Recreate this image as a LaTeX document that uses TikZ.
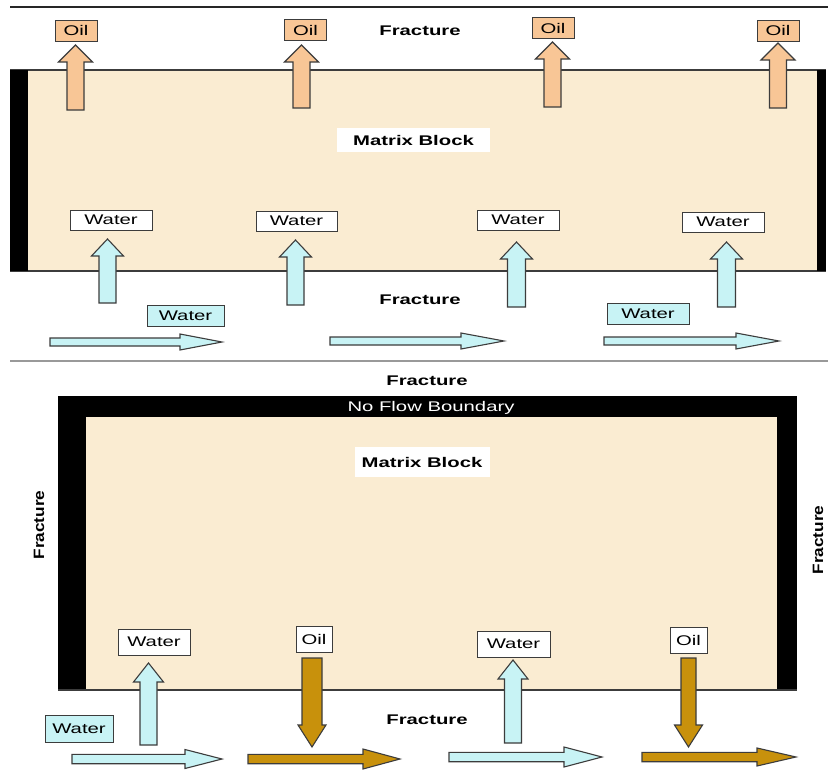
\documentclass[tikz,border=0pt]{standalone}
\usepackage{fontspec}
\setmainfont{Liberation Sans}[FakeStretch=1.45]
\newfontfamily\rotfont{Liberation Sans}[FakeStretch=1.15]
\definecolor{matrixc}{RGB}{250,236,210}
\definecolor{oilc}{RGB}{248,198,150}
\definecolor{waterc}{RGB}{200,243,245}
\definecolor{goldc}{RGB}{200,145,12}
\definecolor{edgec}{RGB}{60,60,60}
\tikzset{
  arrowline/.style={draw=edgec, line width=1.1pt, line join=miter},
  lbl/.style={inner sep=0pt, font=\fontsize{14}{16}\selectfont},
  blbl/.style={inner sep=0pt, font=\fontsize{14}{16}\selectfont\bfseries},
  rotlbl/.style={inner sep=0pt, rotate=90, font=\fontsize{15}{17}\selectfont\rotfont\bfseries},
  oilbox/.style={lbl, draw=edgec, line width=1pt, fill=oilc, minimum width=42pt, minimum height=21pt},
  whitebox/.style={lbl, draw=edgec, line width=1pt, fill=white},
  cyanbox/.style={lbl, draw=edgec, line width=1pt, fill=waterc},
  titlebox/.style={blbl, fill=white}
}
\newcommand{\vblockarrow}[7]{% fill, cx, start y, head base y, tip y, shaft half, head half
  \filldraw[arrowline, fill=#1] ({#2-#6},#3) -- ({#2-#6},#4) -- ({#2-#7},#4) -- (#2,#5) -- ({#2+#7},#4) -- ({#2+#6},#4) -- ({#2+#6},#3) -- cycle;}
\newcommand{\hblockarrow}[7]{% fill, cy, start x, head base x, tip x, shaft half, head half
  \filldraw[arrowline, fill=#1] (#3,{#2-#6}) -- (#4,{#2-#6}) -- (#4,{#2-#7}) -- (#5,#2) -- (#4,{#2+#7}) -- (#4,{#2+#6}) -- (#3,{#2+#6}) -- cycle;}
\begin{document}
\begin{tikzpicture}[x=1pt,y=-1pt]
\useasboundingbox (0,0) rectangle (828,771);
\fill[white] (0,0) rectangle (828,771);
% ---------------- top panel ----------------
\draw[line width=1.5pt, black!85] (10,7) -- (828,7);
\fill[matrixc] (10,70) rectangle (826,271);
\draw[line width=1.2pt, edgec] (10,70) -- (826,70);
\draw[line width=1.2pt, edgec] (10,271) -- (826,271);
\fill[black] (10,70) rectangle (28,271);
\fill[black] (817,70) rectangle (826,271);
\node[titlebox, minimum width=153pt, minimum height=24pt] (mb1) at (413.5,140) {Matrix Block};
\node[blbl] (fr1) at (420,31) {Fracture};
\node[blbl] (fr2) at (420,300) {Fracture};
% oil up arrows
\vblockarrow{oilc}{75.5}{110}{62}{45}{8.5}{17}
\vblockarrow{oilc}{301.5}{108}{62}{45}{8.5}{17}
\vblockarrow{oilc}{552.5}{107}{59}{42}{8.5}{17}
\vblockarrow{oilc}{778}{108}{60}{43}{8.5}{17}
\node[oilbox] (o1) at (76,30.5) {Oil};
\node[oilbox] (o2) at (305.5,30) {Oil};
\node[oilbox] (o3) at (553,28) {Oil};
\node[oilbox] (o4) at (778,30.5) {Oil};
% water up arrows
\vblockarrow{waterc}{107.5}{303}{256}{239}{8.5}{16}
\vblockarrow{waterc}{295.5}{305}{257}{240}{8.5}{16}
\vblockarrow{waterc}{516.5}{307}{259}{242}{9}{16}
\vblockarrow{waterc}{726.5}{307}{259}{242}{9}{16}
\node[whitebox, minimum width=82pt, minimum height=20pt] (w1) at (111,220) {Water};
\node[whitebox, minimum width=81pt, minimum height=20pt] (w2) at (296.5,221) {Water};
\node[whitebox, minimum width=82pt, minimum height=20pt] (w3) at (518,220) {Water};
\node[whitebox, minimum width=82pt, minimum height=20pt] (w4) at (723,222) {Water};
% horizontal water arrows
\hblockarrow{waterc}{342}{50}{180}{222}{4}{8}
\hblockarrow{waterc}{341}{330}{461}{504}{4}{8}
\hblockarrow{waterc}{341}{604}{736}{779}{4}{8}
\node[cyanbox, minimum width=77pt, minimum height=21pt] (wc1) at (185.5,315.5) {Water};
\node[cyanbox, minimum width=82pt, minimum height=21pt] (wc2) at (648,313.5) {Water};
% separator
\draw[line width=2pt, black!40] (10,361) -- (828,361);
% ---------------- bottom panel ----------------
\node[blbl] (fr3) at (427,381) {Fracture};
\fill[black] (58,396) rectangle (797,690);
\fill[matrixc] (86,417) rectangle (777,690);
\draw[line width=1.2pt, edgec] (58,690) -- (797,690);
\node[lbl, text=white] (nfb) at (431,407.5) {No Flow Boundary};
\node[titlebox, minimum width=135pt, minimum height=30pt] (mb2) at (422,462) {Matrix Block};
\node[rotlbl] (frl) at (39,525) {Fracture};
\node[rotlbl] (frr) at (818,540) {Fracture};
\node[blbl] (fr4) at (427,720) {Fracture};
% vertical arrows
\vblockarrow{waterc}{148.5}{745}{682}{663}{8.5}{15}
\vblockarrow{waterc}{513}{743}{679}{660}{8.5}{15}
\vblockarrow{goldc}{312}{658}{725}{747}{10}{14}
\vblockarrow{goldc}{688.5}{658}{725}{747}{7.5}{14}
\node[whitebox, minimum width=72pt, minimum height=26pt] (bw1) at (154,642) {Water};
\node[whitebox, minimum width=73pt, minimum height=26pt] (bw2) at (513.5,644) {Water};
\node[whitebox, minimum width=36pt, minimum height=26pt] (bo1) at (314,639) {Oil};
\node[whitebox, minimum width=37pt, minimum height=26pt] (bo2) at (688.5,640) {Oil};
% horizontal arrows
\hblockarrow{waterc}{759}{72}{185}{222}{4.7}{9.5}
\hblockarrow{goldc}{759}{248}{363}{400}{4.7}{10}
\hblockarrow{waterc}{757}{449}{564}{602}{4.7}{10}
\hblockarrow{goldc}{757}{642}{757}{796}{4.7}{9}
\node[cyanbox, minimum width=68pt, minimum height=27pt] (bwc) at (79,728.5) {Water};
\end{tikzpicture}
\end{document}
